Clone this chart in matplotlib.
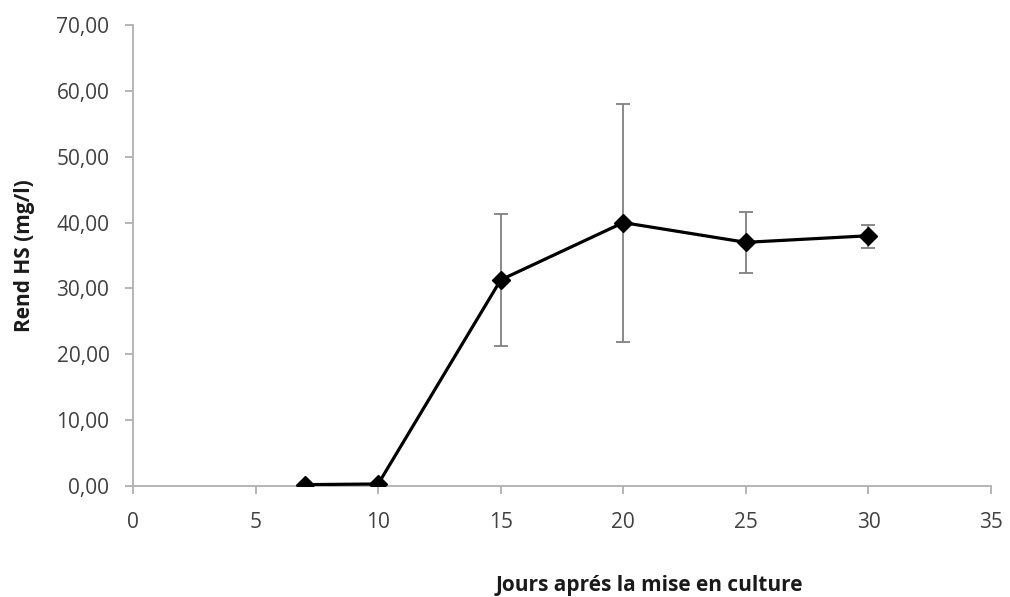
import numpy as np
import matplotlib
matplotlib.use("Agg")
import matplotlib.pyplot as plt
from matplotlib.ticker import FuncFormatter

# données
jours = [7, 10, 15, 20, 25, 30]
rend = [0.2, 0.3, 31.3, 40.0, 37.0, 38.0]
err_bas = [0.0, 0.0, 10.0, 18.1, 4.6, 1.8]
err_haut = [0.0, 0.0, 10.0, 18.0, 4.6, 1.7]

xticks = [0, 5, 10, 15, 20, 25, 30, 35]
yticks = [0, 10, 20, 30, 40, 50, 60, 70]

plt.rcParams['font.family'] = ['Open Sans', 'DejaVu Sans']

fig = plt.figure(figsize=(10.10, 5.97), dpi=100)
ax = fig.add_axes([0.1317, 0.186, 0.8495, 0.772])

ax.errorbar(jours, rend, yerr=[err_bas, err_haut], fmt='none',
            ecolor='#808080', elinewidth=1.3, capsize=5, capthick=1.3, zorder=2)
ax.plot(jours, rend, color='black', lw=2.3, marker='D', ms=9, zorder=3)

ax.set_xlim(0, 35)
ax.set_ylim(0, 70)
ax.set_xticks(xticks)
ax.set_yticks(yticks)
ax.yaxis.set_major_formatter(FuncFormatter(lambda v, p: f"{v:.2f}".replace('.', ',')))

for s in ['top', 'right']:
    ax.spines[s].set_visible(False)
for s in ['left', 'bottom']:
    ax.spines[s].set_color('#b0b0b0')
    ax.spines[s].set_linewidth(1.3)
ax.tick_params(axis='both', colors='#b0b0b0', labelcolor='#404040',
               labelsize=15, length=6, width=1.3)
ax.tick_params(axis='y', pad=11)
ax.tick_params(axis='x', pad=13)

fig.text(0.643, 0.020, "Jours aprés la mise en culture", ha='center', va='center',
         fontsize=15, fontweight='bold', color='#1a1a1a')
fig.text(0.024, 0.571, "Rend HS (mg/l)", ha='center', va='center', rotation=90,
         fontsize=15, fontweight='bold', color='#1a1a1a')

fig.savefig('out.png', dpi=100)
